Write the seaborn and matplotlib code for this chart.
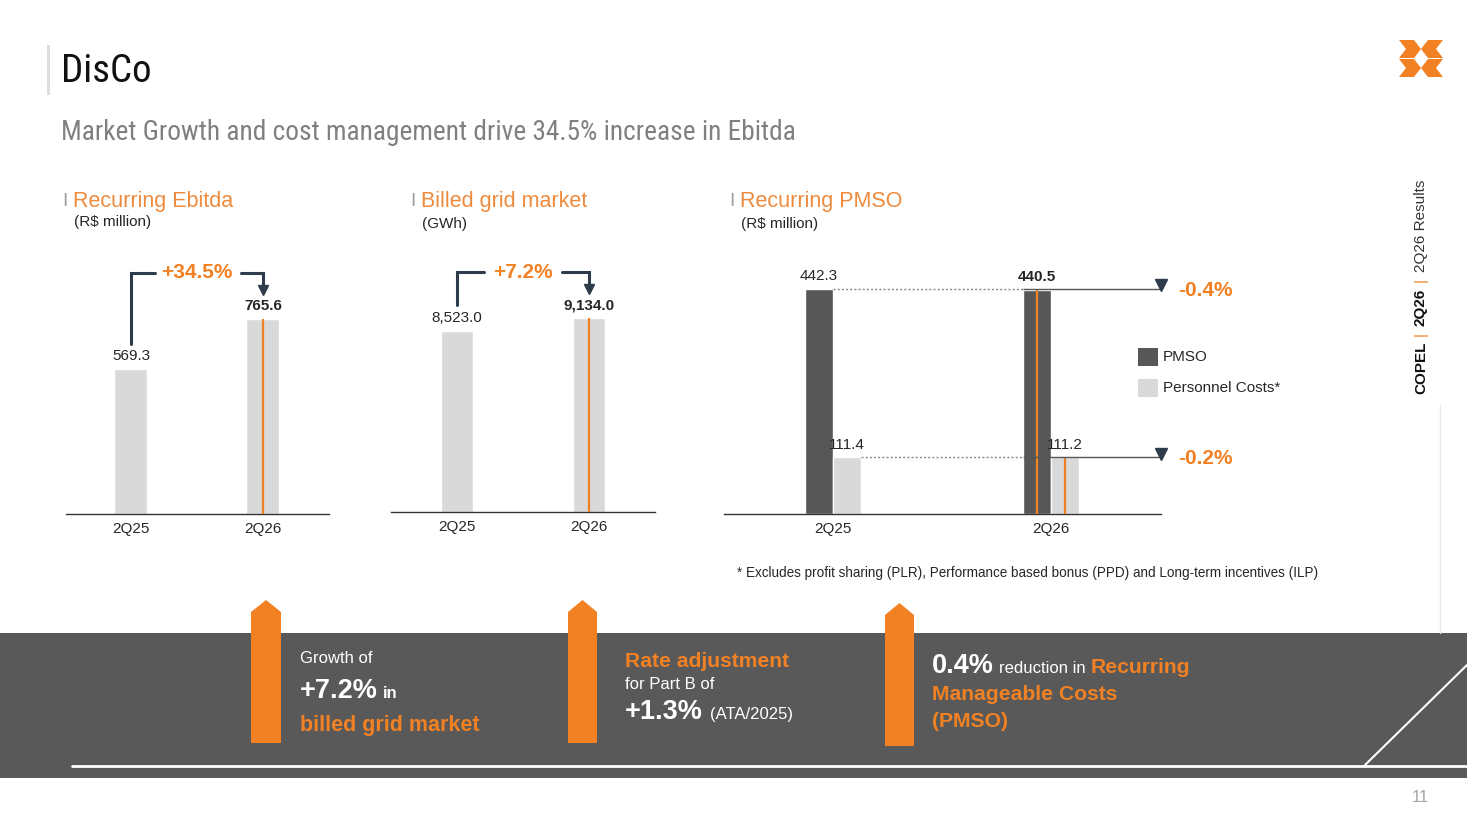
import numpy as np
import pandas as pd
import matplotlib
matplotlib.use("Agg")
import matplotlib.pyplot as plt
from matplotlib import font_manager
from matplotlib.patches import Rectangle, Polygon
import seaborn as sns

# data
quarters = ["2Q25", "2Q26"]
ebitda_values = [569.3, 765.6]
grid_values = [8523.0, 9134.0]
pmso_values = [442.3, 440.5]
personnel_values = [111.4, 111.2]
series_names = ["PMSO", "Personnel Costs*"]
ebitda_change = "+34.5%"
grid_change = "+7.2%"
pmso_change = "-0.4%"
personnel_change = "-0.2%"

ORANGE = "#F28123"
ORANGE_T = "#EE8A3C"
DARK = "#575757"
LIGHT = "#D9D9D9"
NAVY = "#2E3B4A"
TXT = "#262626"
BAND = "#595959"

sns.set_style("white")
names = {f.name for f in font_manager.fontManager.ttflist}
NARROW = next((n for n in ["Liberation Sans Narrow", "Roboto Condensed", "Arial Narrow"] if n in names), "Liberation Sans")
plt.rcParams["font.family"] = ["Liberation Sans", "DejaVu Sans"]

W, H = 1467, 825
fig = plt.figure(figsize=(W / 100, H / 100), dpi=100)
fig.patch.set_facecolor("white")
renderer = fig.canvas.get_renderer()

# background axes in pixel coordinates
bg = fig.add_axes([0, 0, 1, 1])
bg.set_xlim(0, W)
bg.set_ylim(H, 0)
bg.axis("off")


def px_axes(x0, x1, ytop, ybot):
    ax = fig.add_axes([x0 / W, 1 - ybot / H, (x1 - x0) / W, (ybot - ytop) / H])
    ax.set_facecolor("none")
    return ax


def runs(x, y, parts, **common):
    for s, kw, gap in parts:
        t = bg.text(x, y, s, va="baseline", ha="left", **common, **kw)
        x += t.get_window_extent(renderer).width + gap


def style_axes(ax, top):
    ax.set_ylim(0, top)
    ax.set_yticks([])
    ax.set_xlabel("")
    ax.set_ylabel("")
    for s in ["left", "right", "top"]:
        ax.spines[s].set_visible(False)
    ax.spines["bottom"].set_color("#333333")
    ax.spines["bottom"].set_linewidth(1)
    ax.tick_params(axis="x", length=0, pad=6, labelsize=11, labelcolor=TXT)


# header
bg.add_patch(Rectangle((47, 45), 3, 50, color="#DDDDDD", lw=0))
bg.text(61, 71, "DisCo", fontsize=28, family=NARROW, color="#111111", va="center")
bg.text(61, 133, "Market Growth and cost management drive 34.5% increase in Ebitda",
        fontsize=19.7, family=NARROW, color="#808080", va="center")

# logo
cx = 1421
for sx in [1, -1]:
    for y0 in [40, 59]:
        pts = [(cx - sx * 22, y0), (cx - sx * 7, y0), (cx, y0 + 9), (cx - sx * 7, y0 + 18),
               (cx - sx * 22, y0 + 18), (cx - sx * 15, y0 + 9)]
        bg.add_patch(Polygon(pts, closed=True, color=ORANGE, lw=0))

# section titles
for x, title, unit, uy in [(62, "Recurring Ebitda", "(R$ million)", 222),
                           (410, "Billed grid market", "(GWh)", 224),
                           (729, "Recurring PMSO", "(R$ million)", 224)]:
    bg.text(x, 201, "I", fontsize=14, color="#A0A0A0", va="center")
    bg.text(x + 11, 201, title, fontsize=15.5, color=ORANGE_T, va="center")
    bg.text(x + 12, uy, unit, fontsize=11, color=TXT, va="center")

# chart 1: recurring ebitda
ax1 = px_axes(66, 329, 250, 514)
sns.barplot(x=quarters, y=ebitda_values, color=LIGHT, width=0.25, saturation=1, ax=ax1)
ax1.set_xlim(-0.492, 1.5)
style_axes(ax1, 264 / (195 / ebitda_values[1]))
t = ax1.bar_label(ax1.containers[0], labels=[f"{v:,.1f}" for v in ebitda_values],
                  padding=4, fontsize=11, color=TXT)
t[1].set_fontweight("bold")
ax1.vlines(1, 0, ebitda_values[1], color=ORANGE, lw=1.6, zorder=3)

# chart 2: billed grid market
ax2 = px_axes(391, 655, 250, 512)
sns.barplot(x=quarters, y=grid_values, color=LIGHT, width=0.245, saturation=1, ax=ax2)
ax2.set_xlim(-0.5, 1.5)
style_axes(ax2, 262 / (194 / grid_values[1]))
t = ax2.bar_label(ax2.containers[0], labels=[f"{v:,.1f}" for v in grid_values],
                  padding=4, fontsize=11, color=TXT)
t[1].set_fontweight("bold")
ax2.vlines(1, 0, grid_values[1], color=ORANGE, lw=1.6, zorder=3)

# brackets over charts 1 and 2
for (xa, ya, xb, xc, xd, ytop, label, lx) in [
        (131, 344, 155, 241, 263, 273, ebitda_change, 197),
        (457, 305, 484, 562, 589, 272, grid_change, 523)]:
    bg.plot([xa, xa, xb], [ya, ytop, ytop], color=NAVY, lw=2.2, solid_joinstyle="miter")
    bg.plot([xc, xd, xd], [ytop, ytop, ytop + 13], color=NAVY, lw=2.2, solid_joinstyle="miter")
    bg.plot(xd, ytop + 17, marker="v", ms=7, color=NAVY)
    bg.text(lx, ytop, label, fontsize=15, fontweight="bold", color=ORANGE, ha="center", va="center")

# chart 3: recurring PMSO
df = pd.DataFrame({
    "Quarter": quarters * 2,
    "Series": [series_names[0]] * 2 + [series_names[1]] * 2,
    "Value": pmso_values + personnel_values,
})
ax3 = px_axes(724, 1161, 250, 514)
sns.barplot(data=df, x="Quarter", y="Value", hue="Series", palette=[DARK, LIGHT],
            width=0.257, saturation=1, legend=False, ax=ax3)
ax3.set_xlim(-0.5, 1.505)
ymax3 = 264 / (225 / pmso_values[0])
style_axes(ax3, ymax3)
for i, vals in enumerate([pmso_values, personnel_values]):
    c = ax3.containers[i]
    t = ax3.bar_label(c, labels=[f"{v:,.1f}" for v in vals], padding=4, fontsize=11, color=TXT)
    t[1].set_fontweight("bold" if i == 0 else "normal")
    p1 = c[1]
    cx3 = p1.get_x() + p1.get_width() / 2
    ax3.vlines(cx3, 0, p1.get_height(), color=ORANGE, lw=1.6, zorder=3)
    p0 = c[0]
    y = p0.get_height()
    x_start = p0.get_x() + p0.get_width()
    x_mid = ax3.containers[0][1].get_x()
    ax3.hlines(y, x_start, x_mid, color="#888888", lw=1, linestyles=(0, (1.5, 1.5)), zorder=3)
    ax3.hlines(y, x_mid, 1.505, color="#555555", lw=1, zorder=3, clip_on=False)
    ax3.plot(1.505, y + 7, marker="v", ms=8, color=NAVY, clip_on=False, zorder=4)

bg.text(1178, 291, pmso_change, fontsize=15, fontweight="bold", color=ORANGE, va="center")
bg.text(1178, 459, personnel_change, fontsize=15, fontweight="bold", color=ORANGE, va="center")

# legend
bg.add_patch(Rectangle((1138, 348), 20, 18, color=DARK, lw=0))
bg.add_patch(Rectangle((1138, 379), 20, 18, color=LIGHT, lw=0))
bg.text(1163, 357, series_names[0], fontsize=11, color=TXT, va="center")
bg.text(1163, 388, series_names[1], fontsize=11, color=TXT, va="center")

bg.text(737, 573, "* Excludes profit sharing (PLR), Performance based bonus (PPD) and Long-term incentives (ILP)",
        fontsize=9.75, color=TXT, va="center")

# right side vertical label
bg.plot([1440, 1440], [405, 633], color="#E8E8E8", lw=1)
y = 394
for s, kw, gap in [("COPEL", dict(fontweight="bold", color="#111111"), 6),
                   ("|", dict(color=ORANGE), 6),
                   ("2Q26", dict(fontweight="bold", color="#111111"), 6),
                   ("|", dict(color=ORANGE), 6),
                   ("2Q26 Results", dict(color="#333333"), 0)]:
    t = bg.text(1421, y, s, rotation=90, ha="center", va="bottom", fontsize=11, **kw)
    y -= t.get_window_extent(renderer).height + gap

# bottom band
bg.add_patch(Rectangle((0, 633), W, 145, color=BAND, lw=0, zorder=0))
bg.plot([72, W], [766, 766], color="white", lw=2)
bg.plot([1365, W], [765, 665], color="white", lw=1.5)
for x0, x1, top, bot in [(251, 281, 600, 743), (568, 597, 600, 743), (885, 914, 603, 746)]:
    bg.add_patch(Polygon([(x0, bot), (x0, top + 12), ((x0 + x1) / 2, top), (x1, top + 12), (x1, bot)],
                         closed=True, color=ORANGE, lw=0, zorder=2))

W_ = dict(color="white")
runs(300, 663, [("Growth of", dict(fontsize=12, **W_), 0)])
runs(300, 698, [("+7.2%", dict(fontsize=19.5, fontweight="bold", **W_), 5),
                ("in", dict(fontsize=12, fontweight="bold", **W_), 0)])
runs(300, 731, [("billed grid market", dict(fontsize=15.5, fontweight="bold", color=ORANGE), 0)])

runs(625, 667, [("Rate adjustment", dict(fontsize=15.2, fontweight="bold", color=ORANGE), 0)])
runs(625, 689, [("for Part B of", dict(fontsize=12, **W_), 0)])
runs(625, 719, [("+1.3%", dict(fontsize=19.5, fontweight="bold", **W_), 7),
                ("(ATA/2025)", dict(fontsize=12, **W_), 0)])

runs(932, 673, [("0.4%", dict(fontsize=19.5, fontweight="bold", **W_), 5),
                ("reduction in", dict(fontsize=12, **W_), 5),
                ("Recurring", dict(fontsize=15.2, fontweight="bold", color=ORANGE), 0)])
runs(932, 700, [("Manageable Costs", dict(fontsize=15.2, fontweight="bold", color=ORANGE), 0)])
runs(932, 727, [("(PMSO)", dict(fontsize=15.2, fontweight="bold", color=ORANGE), 0)])

bg.text(1420, 797, "11", fontsize=12, color="#A6A6A6", ha="center", va="center")

fig.savefig("out.png", dpi=100, facecolor="white")
